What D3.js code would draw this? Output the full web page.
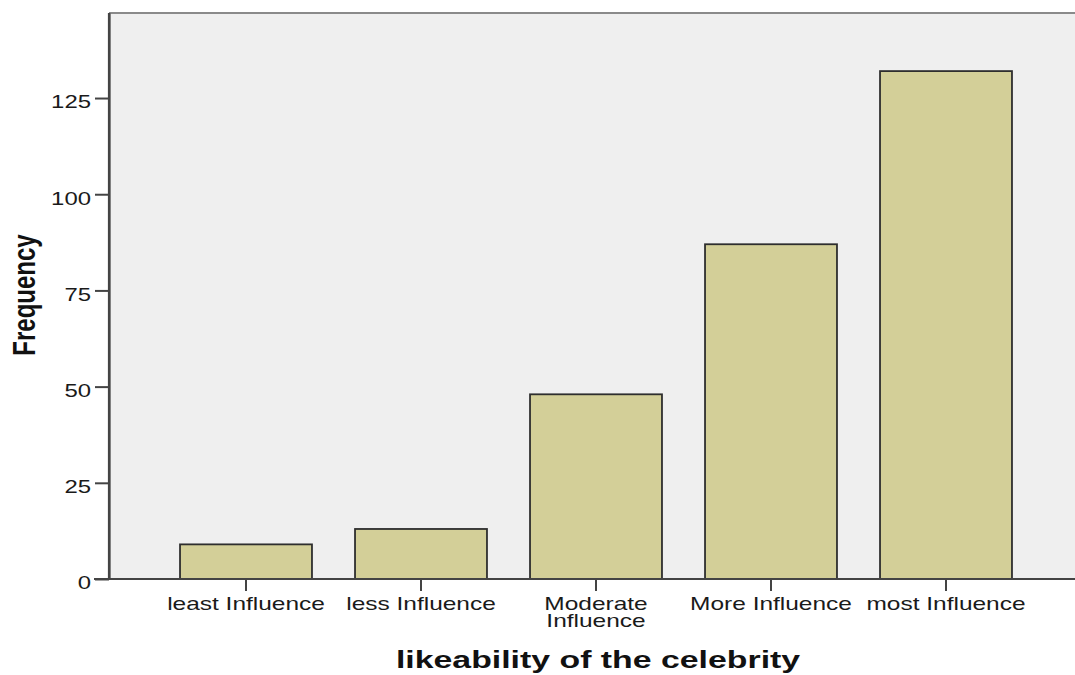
<!DOCTYPE html>
<html><head><meta charset="utf-8">
<script src="https://cdn.jsdelivr.net/npm/d3@7"></script>
<style>body{margin:0;background:#fff}svg{display:block}</style>
</head><body>
<svg id="c" width="1075" height="675"></svg>
<script>
const categories = ["least Influence","less Influence","Moderate Influence","More Influence","most Influence"];
const categoryLines = [["least Influence"],["less Influence"],["Moderate","Influence"],["More Influence"],["most Influence"]];
const frequencies = [9, 13, 48, 87, 132];
const yTicks = [0, 25, 50, 75, 100, 125];
const xTitle = "likeability of the celebrity";
const yTitle = "Frequency";

const svg = d3.select("#c");
const SX = 1.36;
const pL = 109, pT = 13, pR = 1075, pB = 579;

const x = d3.scaleBand().domain(categories).range([158.5, 1033.5]).paddingInner(0.246).paddingOuter(0.123);
const y = d3.scaleLinear().domain([0, 147.1]).range([pB, pT]);

svg.append("rect").attr("x", pL).attr("y", pT).attr("width", pR-pL).attr("height", pB-pT).attr("fill", "#efefef");
svg.append("line").attr("x1", pL).attr("x2", pR).attr("y1", pT).attr("y2", pT).attr("stroke", "#8a8a8a").attr("stroke-width", 2);

svg.append("g").selectAll("rect").data(frequencies).join("rect")
  .attr("x", (d,i) => x(categories[i]))
  .attr("y", d => y(d))
  .attr("width", x.bandwidth())
  .attr("height", d => y(0) - y(d))
  .attr("fill", "#d3cf98").attr("stroke", "#2e2e2e").attr("stroke-width", 1.8);

const font = "'Liberation Sans', Arial, sans-serif";

// Y axis
const ya = svg.append("g").attr("transform", `translate(${pL},0)`)
  .call(d3.axisLeft(y).tickValues(yTicks).tickSize(14).tickPadding(0).tickSizeOuter(0));
ya.select(".domain").attr("stroke", "#444").attr("stroke-width", 2.2);
ya.selectAll(".tick line").attr("stroke", "#444").attr("stroke-width", 2);
ya.selectAll(".tick text").attr("x", 0).attr("dy", "0.38em")
  .attr("transform", "translate(-18,3) scale(1.33,1)")
  .style("font-family", font).style("font-size", "18px").attr("fill", "#1a1a1a");

// X axis
const xa = svg.append("g").attr("transform", `translate(0,${pB})`)
  .call(d3.axisBottom(x).tickSize(12).tickSizeOuter(0).tickFormat(""));
xa.select(".domain").remove();
xa.selectAll(".tick line").attr("stroke", "#444").attr("stroke-width", 2);
svg.append("line").attr("x1", 94).attr("x2", pR).attr("y1", pB).attr("y2", pB).attr("stroke", "#444").attr("stroke-width", 2.2);
svg.append("line").attr("x1", pL).attr("x2", pL).attr("y1", pT).attr("y2", pB).attr("stroke", "#444").attr("stroke-width", 2.2);

const labels = svg.append("g").selectAll("text").data(categories).join("text")
  .attr("transform", d => `translate(${x(d) + x.bandwidth()/2},610) scale(${SX},1)`)
  .attr("text-anchor", "middle").style("font-family", font).style("font-size", "18px").attr("fill", "#1a1a1a");
labels.each(function(d, i) {
  const t = d3.select(this);
  categoryLines[i].forEach((ln, j) => t.append("tspan").attr("x", 0).attr("y", j * 17).text(ln));
});

svg.append("text").attr("transform", `translate(598,668) scale(1.41,1)`)
  .attr("text-anchor", "middle").style("font-family", font).style("font-size", "24px").style("font-weight", "bold")
  .attr("fill", "#111").text(xTitle);

svg.append("text").attr("transform", `translate(35,295) scale(1.33,1) rotate(-90)`)
  .attr("text-anchor", "middle").style("font-family", font).style("font-size", "24px").style("font-weight", "bold")
  .attr("fill", "#111").text(yTitle);
</script>
</body></html>
